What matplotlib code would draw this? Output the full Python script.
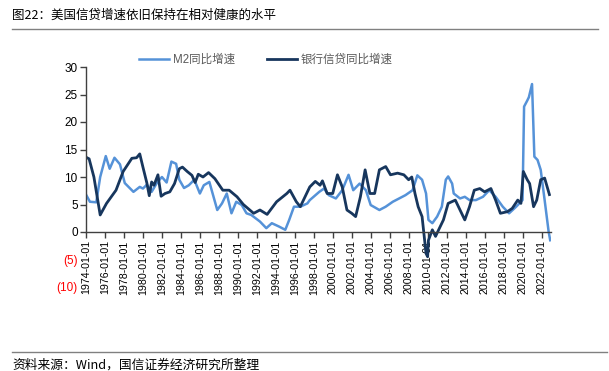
import matplotlib
matplotlib.use("Agg")
import matplotlib.pyplot as plt
import matplotlib.dates as mdates
import pandas as pd

plt.rcParams['font.family'] = ['Liberation Sans', 'Noto Sans CJK SC', 'DejaVu Sans']

# M2 yoy growth (%)
m2_dates = ['1974-01', '1974-06', '1975-02', '1975-07', '1976-02', '1976-07', '1977-01', '1977-08',
            '1978-02', '1979-01', '1979-09', '1980-01', '1980-06', '1980-12', '1981-07', '1982-01',
            '1982-07', '1983-01', '1983-07', '1983-11', '1984-05', '1984-11', '1985-06', '1986-01',
            '1986-06', '1987-01', '1987-11', '1988-05', '1988-11', '1989-05', '1989-11', '1990-06',
            '1990-12', '1991-06', '1992-05', '1993-01', '1993-08', '1994-05', '1995-01', '1995-06',
            '1995-12', '1996-08', '1997-05', '1997-08', '1998-08', '1999-02', '1999-08', '2000-05',
            '2001-01', '2001-09', '2002-03', '2002-11', '2003-07', '2004-01', '2004-12', '2005-08',
            '2006-05', '2007-01', '2007-09', '2008-06', '2008-12', '2009-06', '2009-11', '2010-02',
            '2010-07', '2011-01', '2011-07', '2011-12', '2012-03', '2012-08', '2012-10', '2013-06',
            '2013-12', '2014-06', '2015-02', '2015-11', '2016-07', '2017-03', '2017-12', '2018-08',
            '2019-05', '2020-01', '2020-03', '2020-07', '2020-09', '2021-01', '2021-04', '2021-08',
            '2021-12', '2022-05', '2022-10', '2022-12']
m2_values = [6.8, 5.5, 5.4, 10.0, 13.8, 11.5, 13.5, 12.3,
             8.9, 7.3, 8.2, 7.9, 8.6, 7.3, 9.0, 10.0,
             9.0, 12.8, 12.4, 9.5, 8.0, 8.5, 9.5, 7.0,
             8.5, 9.1, 4.0, 5.2, 7.0, 3.4, 5.5, 4.9,
             3.4, 3.1, 1.9, 0.7, 1.6, 1.0, 0.4, 2.2,
             4.6, 4.6, 5.2, 5.8, 7.3, 7.9, 6.7, 6.1,
             7.6, 10.4, 7.6, 8.8, 7.6, 4.9, 4.0, 4.6,
             5.5, 6.1, 6.7, 7.6, 10.3, 9.5, 7.0, 2.2,
             1.6, 2.8, 4.6, 9.5, 10.1, 8.8, 7.0, 6.1,
             6.4, 5.8, 5.8, 6.4, 7.6, 6.4, 4.6, 3.4,
             4.6, 5.8, 22.8, 23.9, 24.5, 26.9, 13.7, 13.1,
             11.3, 5.8, 0.1, -1.5]

# bank credit yoy growth (%)
credit_dates = ['1974-01', '1974-05', '1974-11', '1975-07', '1976-03', '1977-03', '1977-12', '1978-11',
                '1979-05', '1979-09', '1980-01', '1980-06', '1980-09', '1980-12', '1981-03', '1981-08',
                '1981-12', '1982-05', '1982-11', '1983-05', '1983-11', '1984-03', '1984-09', '1985-03',
                '1985-07', '1985-11', '1986-05', '1986-12', '1987-08', '1988-06', '1989-02', '1989-12',
                '1990-08', '1991-09', '1992-05', '1993-02', '1994-02', '1995-03', '1995-07', '1996-03',
                '1996-08', '1997-08', '1998-03', '1998-09', '1998-12', '1999-06', '2000-01', '2000-07',
                '2001-01', '2001-07', '2002-01', '2002-06', '2002-12', '2003-06', '2003-12', '2004-06',
                '2004-12', '2005-08', '2006-02', '2006-11', '2007-07', '2008-01', '2008-05', '2008-09',
                '2009-01', '2009-06', '2009-11', '2010-01', '2010-02', '2010-07', '2010-11', '2011-03',
                '2011-09', '2012-03', '2012-12', '2013-06', '2013-12', '2014-06', '2014-12', '2015-07',
                '2016-01', '2016-09', '2017-03', '2017-09', '2018-06', '2018-12', '2019-07', '2019-11',
                '2020-02', '2020-07', '2020-10', '2021-03', '2021-07', '2021-12', '2022-05', '2022-07',
                '2022-11']
credit_values = [13.6, 13.3, 10.0, 3.1, 5.2, 7.6, 11.0, 13.4,
                 13.5, 14.2, 11.8, 8.9, 6.6, 9.1, 8.5, 10.4,
                 6.5, 7.0, 7.3, 8.8, 11.5, 11.8, 11.0, 10.3,
                 9.0, 10.5, 10.0, 10.8, 9.7, 7.6, 7.6, 6.4,
                 5.0, 3.4, 4.0, 3.2, 5.5, 7.0, 7.6, 5.5,
                 4.6, 8.2, 9.2, 8.5, 9.3, 7.0, 7.0, 10.4,
                 8.2, 4.0, 3.4, 2.8, 6.4, 11.3, 7.0, 7.0,
                 11.3, 11.9, 10.4, 10.7, 10.4, 9.5, 10.0, 7.0,
                 4.6, 2.8, -3.9, -4.5, -1.5, 0.4, -0.8, 0.4,
                 2.2, 5.2, 5.8, 4.0, 2.2, 4.6, 7.6, 7.9,
                 7.3, 7.9, 5.8, 3.4, 3.7, 4.3, 5.8, 5.2,
                 11.0, 9.5, 8.8, 4.6, 5.8, 9.5, 9.8, 8.8,
                 6.8]

y_ticks = [-10, -5, 0, 5, 10, 15, 20, 25, 30]
y_labels = ['(10)', '(5)', '0', '5', '10', '15', '20', '25', '30']

m2_color = '#5592D8'
credit_color = '#17365D'

fig = plt.figure(figsize=(6.09, 3.71), dpi=100)
ax = fig.add_axes([86 / 609, 1 - 287 / 371, (551 - 86) / 609, (287 - 67) / 371])

ax.plot(pd.to_datetime(m2_dates), m2_values, color=m2_color, lw=1.8, label='M2同比增速')
ax.plot(pd.to_datetime(credit_dates), credit_values, color=credit_color, lw=2.0, label='银行信贷同比增速')

ax.set_xlim(pd.Timestamp('1974-01-01'), pd.Timestamp('2023-01-01'))
ax.set_ylim(-10, 30)

ax.spines['top'].set_visible(False)
ax.spines['right'].set_visible(False)
ax.spines['bottom'].set_position(('data', 0))
ax.spines['left'].set_bounds(0, 30)
for s in ['bottom', 'left']:
    ax.spines[s].set_color('#404040')
    ax.spines[s].set_linewidth(1.0)

ax.xaxis.set_major_locator(mdates.YearLocator(2))
ax.xaxis.set_major_formatter(mdates.DateFormatter('%Y-%m-%d'))
ax.tick_params(axis='x', rotation=90, labelsize=7.7, length=4, width=1, color='#404040', pad=2)

ax.set_yticks(y_ticks)
ax.set_yticklabels(y_labels)
ax.tick_params(axis='y', labelsize=8.5, length=4, width=1, color='#404040', pad=2)
for tick, val in zip(ax.yaxis.get_major_ticks(), y_ticks):
    if val < 0:
        tick.tick1line.set_visible(False)
        tick.label1.set_color('#FF0000')

fig.legend(loc='center', bbox_to_anchor=(266 / 609, 1 - 60 / 371), ncol=2, frameon=False,
           fontsize=8.3, handlelength=2.6, columnspacing=2.8, handletextpad=0.3,
           labelcolor='#595959')

fig.text(12 / 609, 1 - 15 / 371, '图22：美国信贷增速依旧保持在相对健康的水平', fontsize=9,
         va='center', ha='left', family=['Noto Sans CJK SC'])
fig.add_artist(plt.Line2D([12 / 609, 598 / 609], [1 - 29 / 371, 1 - 29 / 371], color='#808080', lw=1))
fig.add_artist(plt.Line2D([12 / 609, 607 / 609], [1 - 352 / 371, 1 - 352 / 371], color='#808080', lw=1))
fig.text(12 / 609, 1 - 365 / 371, '资料来源：Wind，国信证券经济研究所整理', fontsize=9.2,
         va='center', ha='left', family=['Noto Sans CJK SC'])

fig.savefig('out.png', dpi=100)
